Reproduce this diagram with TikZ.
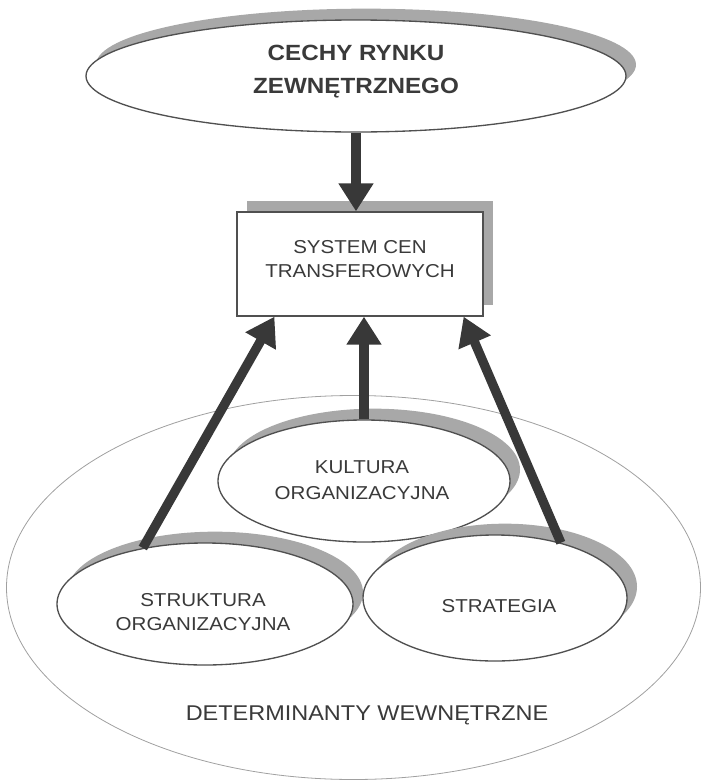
\documentclass[tikz,border=0pt]{standalone}
\usepackage{fontspec}
\setmainfont{Liberation Sans}[FakeStretch=1.1]
\usetikzlibrary{shapes.geometric,shadows,arrows.meta,calc}
\definecolor{linegray}{HTML}{505050}
\definecolor{shadowgray}{HTML}{A8A8A8}
\definecolor{arrowgray}{HTML}{383838}
\definecolor{textgray}{HTML}{3A3A3A}
\definecolor{biggray}{HTML}{A0A0A0}
\tikzset{
  shade box/.style={draw=linegray, line width=1pt, fill=white, inner sep=0pt,
    drop shadow={shadow xshift=7.5pt, shadow yshift=8.5pt, opacity=1, fill=shadowgray}},
  oval/.style={shade box, ellipse},
  box/.style={shade box, rectangle},
  lbl/.style={text=textgray, align=center, font=\fontsize{14}{18}\selectfont, inner sep=0pt},
  bigarrow/.style={draw=arrowgray, line width=7pt, -{Triangle[length=21pt, width=25pt]}},
}
\begin{document}
\begin{tikzpicture}[x=0.75pt,y=-0.75pt]
\useasboundingbox (0,0) rectangle (702,782);
% outer ellipse
\node[ellipse, draw=biggray, line width=0.6pt, minimum width=520.5pt, minimum height=288pt, inner sep=0pt] (det) at (353.5,587.5) {};
\node[lbl, font=\fontsize{16}{20}\selectfont] (detT) at (367,715) {DETERMINANTY WEWNĘTRZNE};
% top ellipse
\node[oval, minimum width=405pt, minimum height=84pt] (rynek) at (356,76) {};
\node[lbl, font=\bfseries\fontsize{16.5}{24.75}\selectfont] (rynekT) at (356,71.5) {CECHY RYNKU\\ZEWNĘTRZNEGO};
% rectangle
\node[box, minimum width=184.5pt, minimum height=78pt] (sys) at (360,264) {};
\node[lbl] (sysT) at (360,259) {SYSTEM CEN\\TRANSFEROWYCH};
% inner ellipses
\node[oval, minimum width=219pt, minimum height=91.5pt] (kult) at (364,481) {};
\node[lbl, font=\fontsize{14}{19.5}\selectfont] (kultT) at (362,480) {KULTURA\\ORGANIZACYJNA};
\node[oval, minimum width=222pt, minimum height=91.5pt] (struk) at (205,604) {};
\node[lbl] (strukT) at (203,612) {STRUKTURA\\ORGANIZACYJNA};
\node[oval, minimum width=198pt, minimum height=94.5pt] (strat) at (495,598) {};
\node[lbl] (stratT) at (499,606) {STRATEGIA};
% arrows
\draw[bigarrow] (rynek.south) -- (rynek.south |- sys.north);
\draw[bigarrow] (struk.138) -- ($(sys.south west)!0.154!(sys.south east)$);
\draw[bigarrow] (kult.north) -- (kult.north |- sys.south);
\draw[bigarrow] (strat.40) -- ($(sys.south west)!0.919!(sys.south east)$);
\end{tikzpicture}
\end{document}
